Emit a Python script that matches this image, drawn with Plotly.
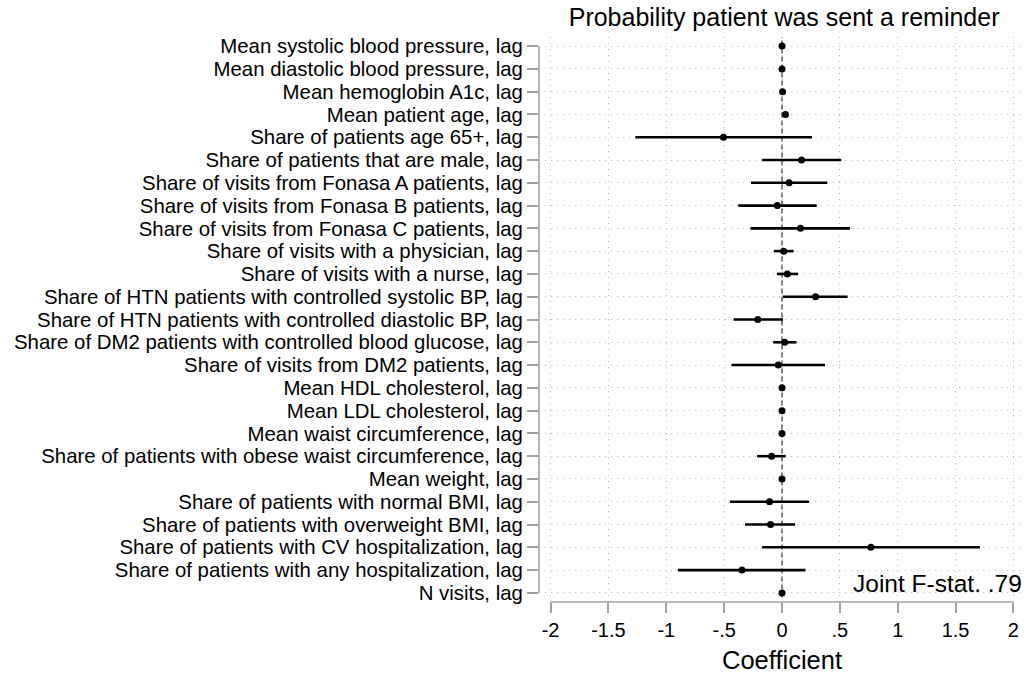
import plotly.graph_objects as go

labels = [
    "Mean systolic blood pressure, lag",
    "Mean diastolic blood pressure, lag",
    "Mean hemoglobin A1c, lag",
    "Mean patient age, lag",
    "Share of patients age 65+, lag",
    "Share of patients that are male, lag",
    "Share of visits from Fonasa A patients, lag",
    "Share of visits from Fonasa B patients, lag",
    "Share of visits from Fonasa C patients, lag",
    "Share of visits with a physician, lag",
    "Share of visits with a nurse, lag",
    "Share of HTN patients with controlled systolic BP, lag",
    "Share of HTN patients with controlled diastolic BP, lag",
    "Share of DM2 patients with controlled blood glucose, lag",
    "Share of visits from DM2 patients, lag",
    "Mean HDL cholesterol, lag",
    "Mean LDL cholesterol, lag",
    "Mean waist circumference, lag",
    "Share of patients with obese waist circumference, lag",
    "Mean weight, lag",
    "Share of patients with normal BMI, lag",
    "Share of patients with overweight BMI, lag",
    "Share of patients with CV hospitalization, lag",
    "Share of patients with any hospitalization, lag",
    "N visits, lag",
]
coef = [0.0, 0.0, 0.005, 0.03, -0.506, 0.169, 0.061, -0.041, 0.16, 0.015, 0.046,
        0.29, -0.209, 0.023, -0.032, 0.0, 0.0, 0.0, -0.09, 0.0, -0.108, -0.099,
        0.768, -0.346, 0.0]
ci_lo = [0.0, 0.0, 0.005, 0.03, -1.268, -0.172, -0.268, -0.378, -0.273, -0.07, -0.044,
         0.009, -0.419, -0.076, -0.436, 0.0, 0.0, 0.0, -0.215, 0.0, -0.45, -0.32,
         -0.172, -0.899, 0.0]
ci_hi = [0.0, 0.0, 0.005, 0.03, 0.259, 0.512, 0.39, 0.30, 0.587, 0.10, 0.14,
         0.567, 0.009, 0.125, 0.372, 0.0, 0.0, 0.0, 0.032, 0.0, 0.233, 0.113,
         1.71, 0.203, 0.0]
xtick_vals = [-2, -1.5, -1, -0.5, 0, 0.5, 1, 1.5, 2]
xtick_text = ["-2", "-1.5", "-1", "-.5", "0", ".5", "1", "1.5", "2"]

rows = list(range(1, len(labels) + 1))
FONT = "Liberation Sans, Arial, Helvetica, sans-serif"
AXC = "#a0a0a0"
GRIDC = "#bdbdbd"

fig = go.Figure()
fig.add_trace(go.Scatter(
    x=coef, y=rows, mode="markers",
    marker=dict(color="black", size=7),
    error_x=dict(type="data", symmetric=False,
                 array=[h - c for h, c in zip(ci_hi, coef)],
                 arrayminus=[c - l for c, l in zip(coef, ci_lo)],
                 width=0, thickness=2.6, color="black"),
    showlegend=False, hoverinfo="skip",
))

# zero reference line
fig.add_shape(type="line", xref="x", yref="paper", x0=0, x1=0, y0=0.008, y1=1,
              line=dict(color="#808080", width=2, dash="5px,3px"), layer="below")
# x axis line from min to max tick
fig.add_shape(type="line", xref="x", yref="paper", x0=xtick_vals[0], x1=xtick_vals[-1],
              y0=0, y1=0, line=dict(color=AXC, width=1.5))
# y axis line from first to last row
fig.add_shape(type="line", xref="paper", yref="y", x0=0, x1=0, y0=rows[0], y1=rows[-1],
              line=dict(color=AXC, width=1.5))

fig.add_annotation(text="Joint F-stat. .79", xref="paper", yref="y", x=0.998, y=24.6,
                   xanchor="right", yanchor="middle", showarrow=False,
                   font=dict(family=FONT, size=24.5, color="black"))
fig.add_annotation(text="Coefficient", xref="paper", yref="paper", x=0.5, y=-0.102,
                   xanchor="center", yanchor="middle", showarrow=False,
                   font=dict(family=FONT, size=25.5, color="black"))

fig.update_layout(
    width=1029, height=677,
    margin=dict(l=539, r=4, t=37, b=75),
    paper_bgcolor="white", plot_bgcolor="white",
    font=dict(family=FONT, color="black"),
    title=dict(text="Probability patient was sent a reminder", x=0.762, xanchor="center",
               y=1 - 17 / 677, yanchor="middle", font=dict(family=FONT, size=25, color="black")),
    xaxis=dict(range=[-2.1, 2.1], tickvals=xtick_vals, ticktext=xtick_text,
               showline=False, zeroline=False, ticks="outside", ticklen=10, tickwidth=1.5,
               tickcolor=AXC, tickfont=dict(family=FONT, size=20, color="black"),
               showgrid=True, gridcolor=GRIDC, griddash="1px,5px", gridwidth=1),
    yaxis=dict(range=[25.4, 0.6], tickvals=rows, ticktext=labels,
               showline=False, zeroline=False, ticks="outside", ticklen=11, tickwidth=1.5,
               tickcolor=AXC, tickfont=dict(family=FONT, size=20.4, color="black"),
               showgrid=True, gridcolor=GRIDC, griddash="1px,5px", gridwidth=1),
)

fig.write_html("out.html")
